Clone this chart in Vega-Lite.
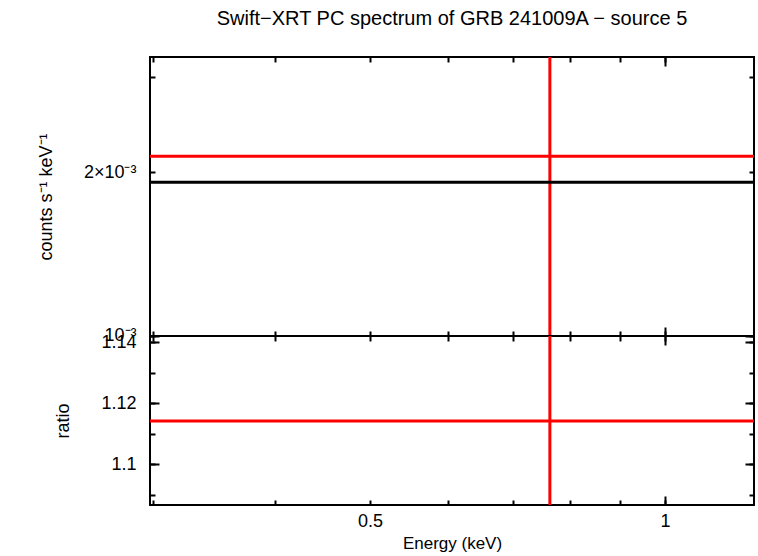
{
  "$schema": "https://vega.github.io/schema/vega-lite/v6.json",
  "padding": {"left": 36, "top": 8, "right": 3, "bottom": 5},
  "background": "white",
  "datasets": {
    "spec": [
      {"energy": 0.763, "elo": 0.25, "ehi": 1.3, "rate": 0.00214, "rate_lo": 0.0009, "rate_hi": 0.0035, "model": 0.001917, "ratio": 1.1141, "ratio_lo": 1.08, "ratio_hi": 1.15}
    ]
  },
  "data": {"name": "spec"},
  "spacing": 0,
  "bounds": "flush",
  "vconcat": [
    {
      "width": 604,
      "height": 279,
      "title": {
        "text": "Swift−XRT PC spectrum of GRB 241009A − source 5",
        "frame": "group",
        "anchor": "middle",
        "font": "Liberation Sans",
        "fontSize": 20,
        "fontWeight": "normal",
        "color": "black",
        "offset": 27
      },
      "layer": [
        {
          "mark": {"type": "rule", "color": "red", "strokeWidth": 3, "clip": true},
          "encoding": {
            "x": {"field": "elo", "type": "quantitative", "scale": {"type": "log", "domain": [0.298, 1.233], "nice": false},
                  "axis": {"orient": "bottom", "title": null, "values": [0.3, 0.4, 0.5, 0.6, 0.7, 0.8, 0.9, 1], "tickSize": -5, "labels": false}},
            "x2": {"field": "ehi"},
            "y": {"field": "rate", "type": "quantitative", "scale": {"type": "log", "domain": [0.000998, 0.00326], "nice": false},
                  "axis": {"orient": "left", "title": "counts s⁻¹ keV⁻¹", "titleFontSize": 18, "titlePadding": 28, "values": [0.001, 0.002, 0.003], "tickSize": -5, "labelPadding": 19,
                           "labelExpr": "datum.value == 0.002 ? '2×10⁻³' : datum.value == 0.001 ? '10⁻³' : ''"}}
          }
        },
        {
          "mark": {"type": "rule", "color": "red", "strokeWidth": 3, "clip": true},
          "encoding": {
            "x": {"field": "energy", "type": "quantitative", "axis": {"orient": "top", "title": null, "values": [0.3, 0.4, 0.5, 0.6, 0.7, 0.8, 0.9, 1], "tickSize": -5, "labels": false}},
            "y": {"field": "rate_lo", "type": "quantitative", "axis": {"orient": "right", "title": null, "values": [0.001, 0.002, 0.003], "tickSize": -5, "labels": false}},
            "y2": {"field": "rate_hi"}
          }
        },
        {
          "mark": {"type": "rule", "color": "black", "strokeWidth": 3, "clip": true},
          "encoding": {
            "x": {"field": "elo", "type": "quantitative", "axis": {"orient": "bottom", "title": null, "values": [1], "tickSize": -9, "labels": false}},
            "x2": {"field": "ehi"},
            "y": {"field": "model", "type": "quantitative", "axis": {"orient": "left", "title": null, "values": [0.001], "tickSize": -9, "labels": false}}
          }
        },
        {
          "mark": {"type": "rule", "color": "black", "strokeWidth": 3, "opacity": 0, "clip": true},
          "encoding": {
            "x": {"field": "elo", "type": "quantitative", "axis": {"orient": "top", "title": null, "values": [1], "tickSize": -9, "labels": false}},
            "x2": {"field": "ehi"},
            "y": {"field": "model", "type": "quantitative", "axis": {"orient": "right", "title": null, "values": [0.001], "tickSize": -9, "labels": false}}
          }
        }
      ],
      "resolve": {"axis": {"x": "independent", "y": "independent"}}
    },
    {
      "width": 604,
      "height": 169,
      "layer": [
        {
          "mark": {"type": "rule", "color": "red", "strokeWidth": 3, "clip": true},
          "encoding": {
            "x": {"field": "elo", "type": "quantitative", "scale": {"type": "log", "domain": [0.298, 1.233], "nice": false},
                  "axis": {"orient": "bottom", "title": "Energy (keV)", "titlePadding": 5, "values": [0.3, 0.4, 0.5, 0.6, 0.7, 0.8, 0.9, 1], "tickSize": -5, "labelPadding": 12,
                           "labelExpr": "datum.value == 0.5 ? '0.5' : datum.value == 1 ? '1' : ''"}},
            "x2": {"field": "ehi"},
            "y": {"field": "ratio", "type": "quantitative", "scale": {"domain": [1.0866, 1.142], "nice": false, "zero": false},
                  "axis": {"orient": "left", "title": "ratio", "titleFontSize": 18, "titlePadding": 28, "values": [1.09, 1.1, 1.11, 1.12, 1.13, 1.14], "tickSize": -5, "labelPadding": 19,
                           "labelExpr": "datum.value == 1.1 ? '1.1' : datum.value == 1.12 ? '1.12' : datum.value == 1.14 ? '1.14' : ''"}}
          }
        },
        {
          "mark": {"type": "rule", "color": "red", "strokeWidth": 3, "clip": true},
          "encoding": {
            "x": {"field": "energy", "type": "quantitative", "axis": {"orient": "top", "title": null, "values": [0.3, 0.4, 0.5, 0.6, 0.7, 0.8, 0.9, 1], "tickSize": -5, "labels": false}},
            "y": {"field": "ratio_lo", "type": "quantitative", "axis": {"orient": "right", "title": null, "values": [1.09, 1.1, 1.11, 1.12, 1.13, 1.14], "tickSize": -5, "labels": false}},
            "y2": {"field": "ratio_hi"}
          }
        },
        {
          "mark": {"type": "rule", "color": "red", "strokeWidth": 3, "opacity": 0, "clip": true},
          "encoding": {
            "x": {"field": "elo", "type": "quantitative", "axis": {"orient": "bottom", "title": null, "values": [1], "tickSize": -9, "labels": false}},
            "x2": {"field": "ehi"},
            "y": {"field": "ratio", "type": "quantitative", "axis": {"orient": "left", "title": null, "values": [1.1, 1.12, 1.14], "tickSize": -9, "labels": false}}
          }
        },
        {
          "mark": {"type": "rule", "color": "red", "strokeWidth": 3, "opacity": 0, "clip": true},
          "encoding": {
            "x": {"field": "elo", "type": "quantitative", "axis": {"orient": "top", "title": null, "values": [1], "tickSize": -9, "labels": false}},
            "x2": {"field": "ehi"},
            "y": {"field": "ratio", "type": "quantitative", "axis": {"orient": "right", "title": null, "values": [1.1, 1.12, 1.14], "tickSize": -9, "labels": false}}
          }
        }
      ],
      "resolve": {"axis": {"x": "independent", "y": "independent"}}
    }
  ],
  "config": {
    "view": {"stroke": "black", "strokeWidth": 2},
    "axis": {
      "grid": false,
      "domain": false,
      "tickColor": "black",
      "tickWidth": 2,
      "labelFont": "Liberation Sans",
      "labelFontSize": 18,
      "labelColor": "black",
      "titleFont": "Liberation Sans",
      "titleFontSize": 17,
      "titleFontWeight": "normal",
      "titleColor": "black"
    }
  }
}
